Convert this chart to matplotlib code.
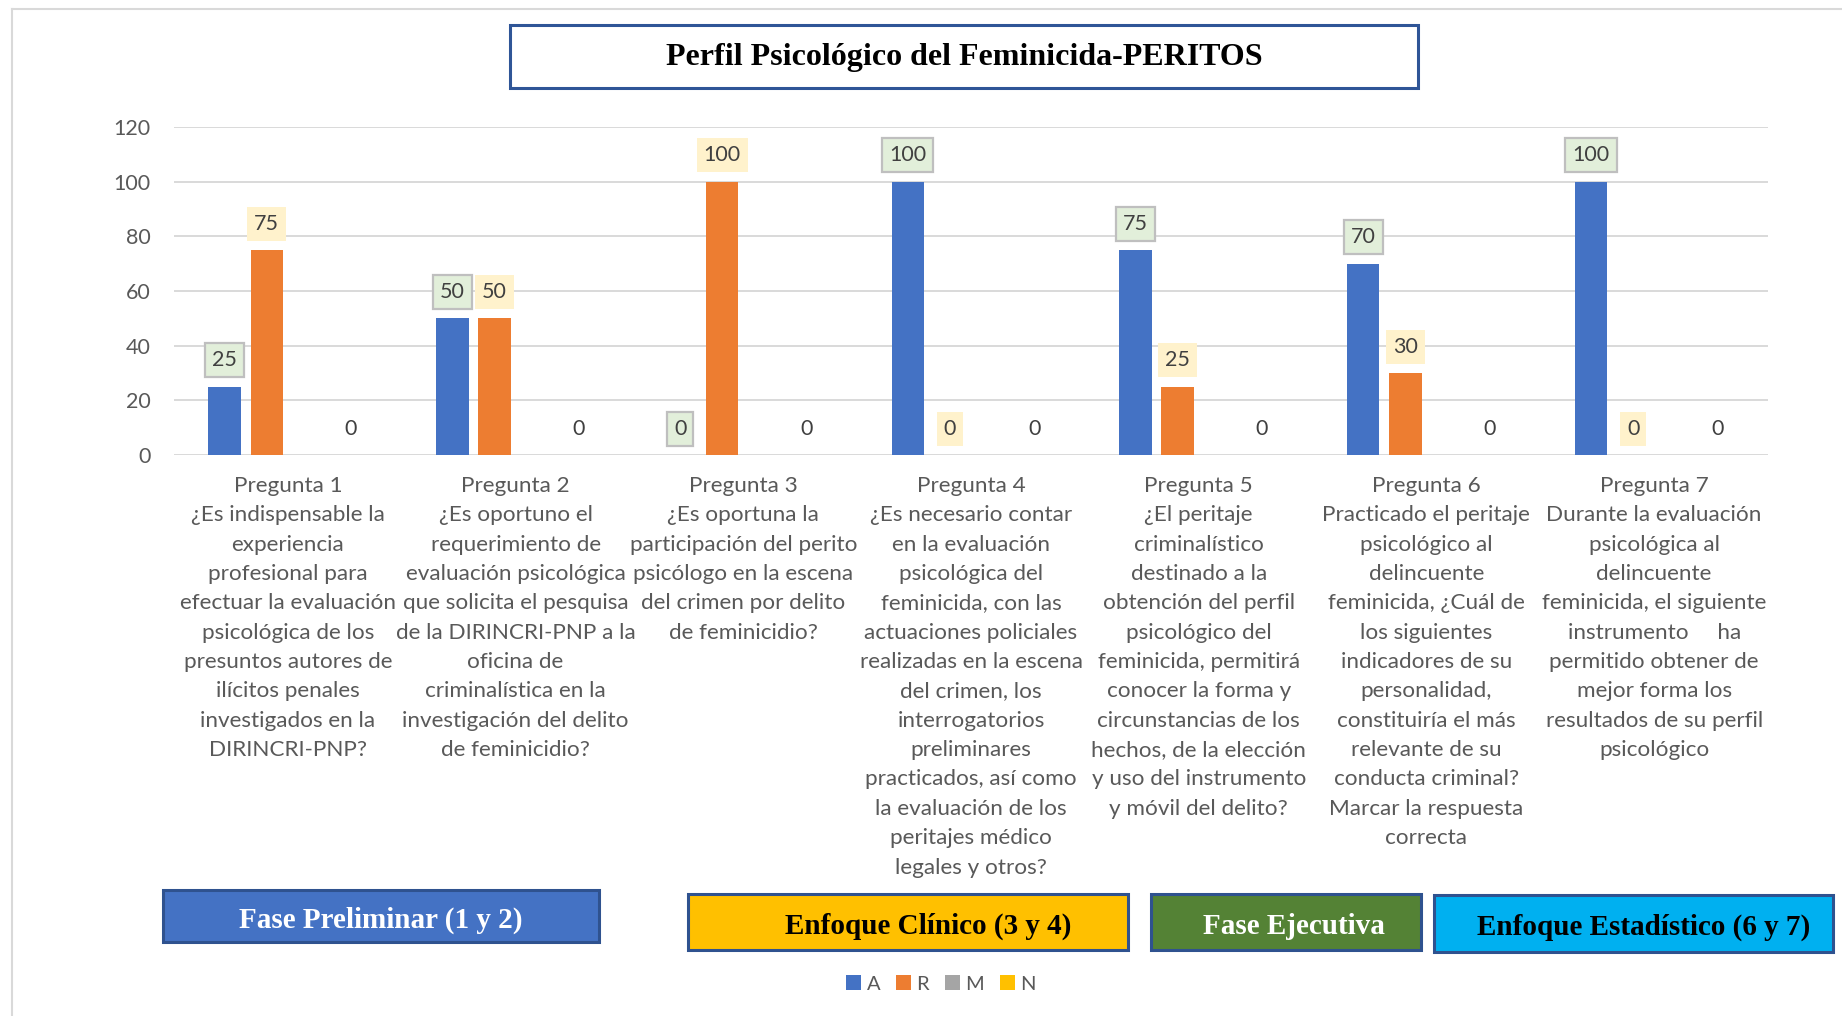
import matplotlib
matplotlib.use("Agg")
import matplotlib.pyplot as plt
from matplotlib.patches import Rectangle, Patch
from matplotlib.lines import Line2D

# ---------------- data ----------------
categories = [
    "Pregunta 1\n¿Es indispensable la\nexperiencia\nprofesional para\nefectuar la evaluación\npsicológica de los\npresuntos autores de\nilícitos penales\ninvestigados en la\nDIRINCRI-PNP?",
    "Pregunta 2\n¿Es oportuno el\nrequerimiento de\nevaluación psicológica\nque solicita el pesquisa\nde la DIRINCRI-PNP a la\noficina de\ncriminalística en la\ninvestigación del delito\nde feminicidio?",
    "Pregunta 3\n¿Es oportuna la\nparticipación del perito\npsicólogo en la escena\ndel crimen por delito\nde feminicidio?",
    "Pregunta 4\n¿Es necesario contar\nen la evaluación\npsicológica del\nfeminicida, con las\nactuaciones policiales\nrealizadas en la escena\ndel crimen, los\ninterrogatorios\npreliminares\npracticados, así como\nla evaluación de los\nperitajes médico\nlegales y otros?",
    "Pregunta 5\n¿El peritaje\ncriminalístico\ndestinado a la\nobtención del perfil\npsicológico del\nfeminicida, permitirá\nconocer la forma y\ncircunstancias de los\nhechos, de la elección\ny uso del instrumento\ny móvil del delito?",
    "Pregunta 6\nPracticado el peritaje\npsicológico al\ndelincuente\nfeminicida, ¿Cuál de\nlos siguientes\nindicadores de su\npersonalidad,\nconstituiría el más\nrelevante de su\nconducta criminal?\nMarcar la respuesta\ncorrecta",
    "Pregunta 7\nDurante la evaluación\npsicológica al\ndelincuente\nfeminicida, el siguiente\ninstrumento     ha\npermitido obtener de\nmejor forma los\nresultados de su perfil\npsicológico",
]
series_names = ["A", "R", "M", "N"]
A = [25, 50, 0, 100, 75, 70, 100]
R = [75, 50, 100, 0, 25, 30, 0]
M = [0, 0, 0, 0, 0, 0, 0]
N = [0, 0, 0, 0, 0, 0, 0]
yticks = [0, 20, 40, 60, 80, 100, 120]
title = "Perfil Psicológico del Feminicida-PERITOS"
phase_labels = ["Fase Preliminar (1 y 2)", "Enfoque Clínico (3 y 4)",
                "Fase Ejecutiva", "Enfoque Estadístico (6 y 7)"]

# ---------------- style ----------------
W, H = 1842, 1016
colors = {"A": "#4472C4", "R": "#ED7D31", "M": "#A5A5A5", "N": "#FFC000"}
SANS = ["Lato", "DejaVu Sans"]
SERIF = ["Liberation Serif", "DejaVu Serif"]
grid_c = "#D9D9D9"
txt_c = "#595959"
lab_c = "#404040"

fig = plt.figure(figsize=(W / 100, H / 100), dpi=100)
fig.patch.set_facecolor("white")

def fx(px):
    return px / W

def fy(py):
    return 1 - py / H

# outer frame lines (document chart border)
fig.add_artist(Line2D([fx(12), 1.0], [fy(9), fy(9)], color=grid_c, lw=1.5,
                      transform=fig.transFigure))
fig.add_artist(Line2D([fx(12), fx(12)], [fy(9), 0.0], color=grid_c, lw=1.5,
                      transform=fig.transFigure))

# axes
left, right = 174, 1768
top, bottom = 127, 455
ax = fig.add_axes([fx(left), fy(bottom), fx(right - left), (bottom - top) / H])
ax.set_ylim(0, 120)
ax.set_xlim(-0.5, len(categories) - 0.5)

slot = 0.185
bw = 0.142
xs = list(range(len(categories)))
data = {"A": A, "R": R, "M": M, "N": N}
offsets = {"A": -1.5, "R": -0.5, "M": 0.5, "N": 1.5}
for name in series_names:
    pos = [x + offsets[name] * slot for x in xs]
    ax.bar(pos, data[name], width=bw, color=colors[name], zorder=3)
    for p, v in zip(pos, data[name]):
        if name == "M":
            continue
        if name == "A":
            bb = dict(boxstyle="square,pad=0.33", fc="#E2EFDA", ec="#BFBFBF", lw=1.6)
        elif name == "R":
            bb = dict(boxstyle="square,pad=0.33", fc="#FFF2CC", ec="none")
        else:
            bb = None
        ax.annotate(str(v), (p, v), xytext=(0, 19), textcoords="offset points",
                    ha="center", va="center", fontsize=15.5, color=lab_c,
                    family=SANS, bbox=bb, zorder=5)

ax.set_yticks(yticks)
ax.set_yticklabels([str(t) for t in yticks], family=SANS, fontsize=15.5, color=txt_c)
ax.yaxis.grid(True, color=grid_c, lw=1.4, zorder=0)
ax.set_axisbelow(True)
ax.tick_params(axis="y", length=0, pad=17)
ax.tick_params(axis="x", length=0, pad=15)
ax.set_xticks(xs)
ax.set_xticklabels(categories, family=SANS, fontsize=16.2, color=txt_c,
                   linespacing=1.585, va="top", ha="center", multialignment="center")
for s in ax.spines.values():
    s.set_visible(False)

# title box
fig.add_artist(Rectangle((fx(510), fy(88)), fx(1418 - 510), (88 - 25) / H,
                         transform=fig.transFigure, fc="white", ec="#2F5597", lw=2.2))
fig.text(fx(964), fy(58), title, ha="center", va="center", fontsize=23,
         fontweight="bold", family=SERIF, color="black")

# phase boxes: (x0, y0, x1, y1, fill, text colour, text centre x)
boxes = [
    (163, 890, 599, 942, "#4472C4", "white", 381),
    (688, 894, 1128, 950, "#FFC000", "black", 928),
    (1151, 894, 1421, 950, "#548235", "white", 1294),
    (1434, 895, 1833, 952, "#00B0F0", "black", 1644),
]
for (x0, y0, x1, y1, fc, tc, tx), lab in zip(boxes, phase_labels):
    fig.add_artist(Rectangle((fx(x0), fy(y1)), fx(x1 - x0), (y1 - y0) / H,
                             transform=fig.transFigure, fc=fc, ec="#2F528F", lw=2.2))
    fig.text(fx(tx), fy((y0 + y1) / 2 + 4), lab, ha="center", va="center",
             fontsize=21, fontweight="bold", family=SERIF, color=tc)

# legend
handles = [Patch(facecolor=colors[n], edgecolor="none") for n in series_names]
leg = fig.legend(handles, series_names, loc="center", bbox_to_anchor=(fx(941), fy(984)),
                 ncol=4, frameon=False, handlelength=0.75, handleheight=0.75,
                 handletextpad=0.25, columnspacing=0.8,
                 prop={"family": SANS, "size": 14.5})
for t in leg.get_texts():
    t.set_color(txt_c)

fig.savefig("out.png", dpi=100, facecolor="white")
